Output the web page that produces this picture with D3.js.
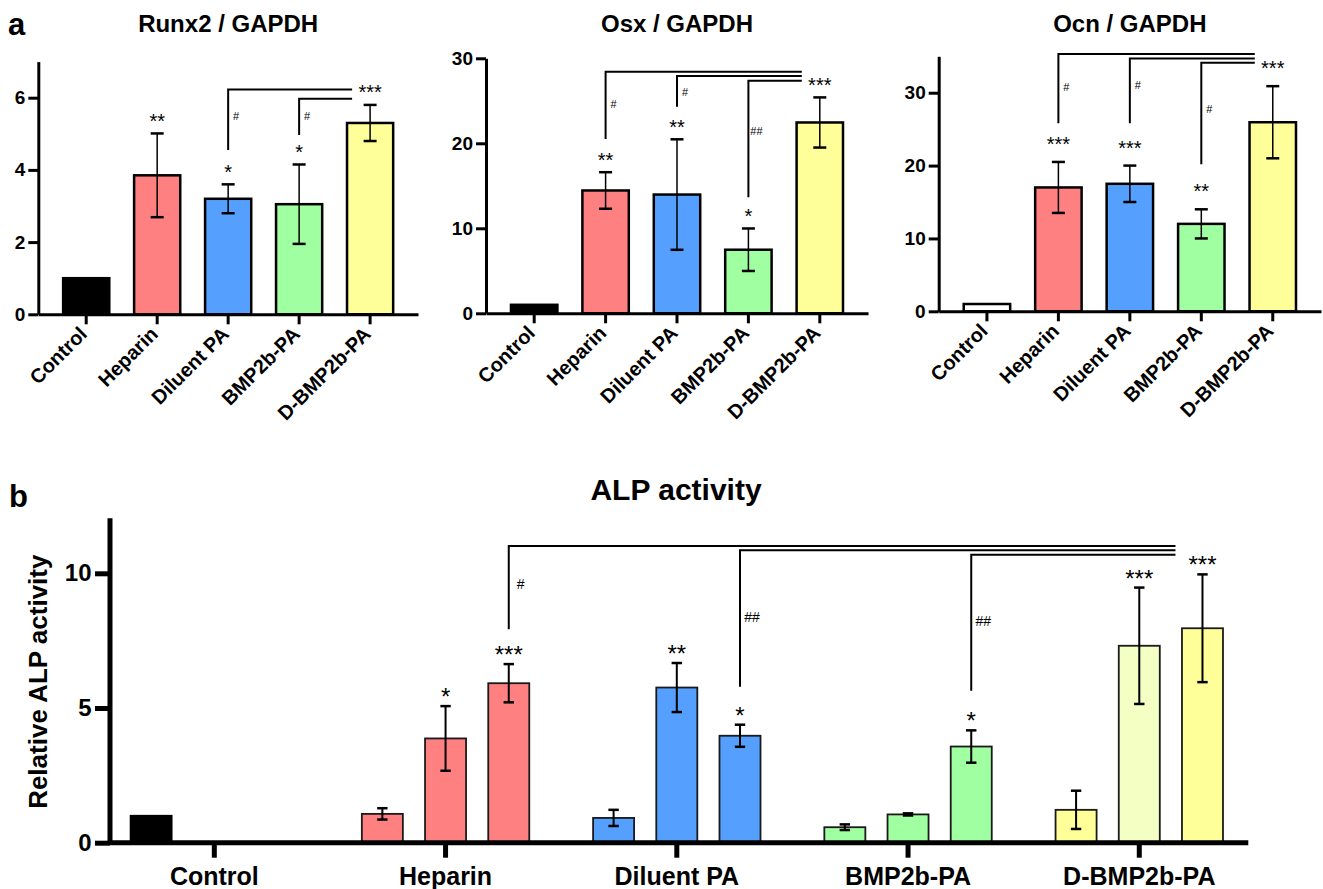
<!DOCTYPE html>
<html><head><meta charset="utf-8">
<script src="https://cdn.jsdelivr.net/npm/d3@7"></script>
<style>
body{margin:0;background:#fff}
svg{display:block}
text{font-family:Arial,"Liberation Sans",sans-serif;fill:#000}
</style>
</head><body>
<svg id="c" width="1323" height="889"></svg>
<script>
// ---------------- DATA ----------------
const categories = ["Control", "Heparin", "Diluent PA", "BMP2b-PA", "D-BMP2b-PA"];
const groupColors = ["#000000", "#FF8080", "#55A0FF", "#A0FFA0", "#FFFF99"];

// Panel a – Runx2 / GAPDH
const runx2Mean = [1.0, 3.85, 3.20, 3.05, 5.30];
const runx2Err  = [0, 1.16, 0.40, 1.10, 0.50];
const runx2Stars = ["", "**", "*", "*", "***"];
const runx2Ticks = [0, 2, 4, 6];
const runx2Brackets = [
  {from: "Diluent PA", base: 4.55, top: 6.23, label: "#", labelAt: 5.5},
  {from: "BMP2b-PA",   base: 4.97, top: 5.97, label: "#", labelAt: 5.5}
];

// Panel a – Osx / GAPDH
const osxMean = [1.0, 14.45, 13.97, 7.48, 22.45];
const osxErr  = [0, 2.15, 6.5, 2.5, 2.95];
const osxStars = ["", "**", "**", "*", "***"];
const osxTicks = [0, 10, 20, 30];
const osxBrackets = [
  {from: "Heparin",    base: 20.5,  top: 28.42, label: "#",  labelAt: 24.6},
  {from: "Diluent PA", base: 24.3,  top: 27.92, label: "#",  labelAt: 26.07},
  {from: "BMP2b-PA",   base: 13.65, top: 27.36, label: "##", labelAt: 21.45}
];

// Panel a – Ocn / GAPDH
const ocnMean = [1.0, 17.0, 17.5, 12.0, 25.95];
const ocnErr  = [0, 3.5, 2.5, 2.0, 4.95];
const ocnStars = ["", "***", "***", "**", "***"];
const ocnTicks = [0, 10, 20, 30];
const ocnBrackets = [
  {from: "Heparin",    base: 25.8, top: 35.3, label: "#", labelAt: 30.8},
  {from: "Diluent PA", base: 25.8, top: 34.7, label: "#", labelAt: 31.05},
  {from: "BMP2b-PA",   base: 20.2, top: 34.1, label: "#", labelAt: 27.7}
];

// Panel b – ALP activity (three sub-series per group)
const alpMean1 = [1.0, 1.07, 0.92, 0.575, 1.22];
const alpErr1  = [0, 0.21, 0.30, 0.105, 0.71];
const alpMean2 = [null, 3.87, 5.76, 1.05, 7.31];
const alpErr2  = [null, 1.20, 0.91, 0.04, 2.16];
const alpMean3 = [null, 5.92, 3.97, 3.57, 7.96];
const alpErr3  = [null, 0.71, 0.41, 0.60, 2.00];
const alpStars1 = ["", "", "", "", ""];
const alpStars2 = ["", "*", "**", "", "***"];
const alpStars3 = ["", "***", "*", "*", "***"];
const alpTicks = [0, 5, 10];
const alpBrackets = [
  {group: "Heparin",    series: 2, base: 7.92, top: 11.01, label: "#",  labelAt: 9.59},
  {group: "Diluent PA", series: 2, base: 5.79, top: 10.86, label: "##", labelAt: 8.37},
  {group: "BMP2b-PA",   series: 2, base: 5.64, top: 10.69, label: "##", labelAt: 8.23}
];

// ---------------- DRAW ----------------
const svg = d3.select("#c");
const fmt = d3.format("d");

svg.append("text").attr("x", 8).attr("y", 35).attr("font-size", 31).attr("font-weight", "bold").text("a");
svg.append("text").attr("x", 9).attr("y", 507).attr("font-size", 31).attr("font-weight", "bold").text("b");

function smallPanel(o) {
  const g = svg.append("g");
  const x = d3.scaleBand().domain(categories).range([o.x0, o.x1]).padding(0.35);
  const y = d3.scaleLinear().domain([0, o.max]).range([o.y0, o.yTop]);
  const cx = c => x(c) + x.bandwidth() / 2;

  g.append("text").attr("x", (o.x0 + o.x1) / 2).attr("y", 31.5)
    .attr("text-anchor", "middle").attr("font-size", 24).attr("font-weight", "bold").text(o.title);

  // bars
  g.selectAll("rect.bar").data(categories).join("rect")
    .attr("x", c => x(c)).attr("width", x.bandwidth())
    .attr("y", (c, i) => y(o.mean[i])).attr("height", (c, i) => y(0) - y(o.mean[i]))
    .attr("fill", (c, i) => (i === 0 && o.whiteControl) ? "#fff" : groupColors[i])
    .attr("stroke", "#000").attr("stroke-width", 2.5);

  // error bars
  categories.forEach((c, i) => {
    const e = o.err[i];
    if (!e) return;
    const m = o.mean[i], xc = cx(c);
    g.append("line").attr("x1", xc).attr("x2", xc).attr("y1", y(m - e)).attr("y2", y(m + e))
      .attr("stroke", "#000").attr("stroke-width", 1.5);
    [m - e, m + e].forEach(v => g.append("line").attr("x1", xc - 6.5).attr("x2", xc + 6.5)
      .attr("y1", y(v)).attr("y2", y(v)).attr("stroke", "#000").attr("stroke-width", 2.5));
    if (o.stars[i]) g.append("text").attr("x", xc).attr("y", y(m + e) - o.starGap)
      .attr("text-anchor", "middle").attr("font-size", 20).text(o.stars[i]);
  });

  // brackets
  const endX = cx(categories[4]) - 18;
  o.brackets.forEach(b => {
    const xc = cx(b.from);
    g.append("path").attr("d", `M${xc},${y(b.base)}V${y(b.top)}H${endX}`)
      .attr("fill", "none").attr("stroke", "#000").attr("stroke-width", 2);
    g.append("text").attr("x", xc + 8).attr("y", y(b.labelAt) + 4)
      .attr("text-anchor", "middle").attr("font-size", 11).text(b.label);
  });

  // axes
  const ya = g.append("g").attr("transform", `translate(${o.x0},0)`)
    .call(d3.axisLeft(y).tickValues(o.ticks).tickFormat(fmt).tickSize(10).tickSizeOuter(0).tickPadding(3));
  ya.selectAll("path,line").attr("stroke", "#000").attr("stroke-width", 3);
  ya.selectAll("text").attr("font-size", 19).attr("font-weight", "bold").attr("font-family", null);

  const xa = g.append("g").attr("transform", `translate(0,${o.y0})`)
    .call(d3.axisBottom(x).tickSize(10).tickSizeOuter(0));
  xa.selectAll("path,line").attr("stroke", "#000").attr("stroke-width", 3);
  xa.selectAll("text").remove();
  categories.forEach(c => {
    g.append("text").attr("transform", `translate(${cx(c) + 2},${o.y0 + 21}) rotate(-45)`)
      .attr("text-anchor", "end").attr("font-size", 20).attr("font-weight", "bold").text(c);
  });
}

smallPanel({title: "Runx2 / GAPDH", x0: 38.3, x1: 418, y0: 314.3, yTop: 61.6, max: 7,
  ticks: runx2Ticks, mean: runx2Mean, err: runx2Err, stars: runx2Stars, brackets: runx2Brackets, starGap: 5.5});
smallPanel({title: "Osx / GAPDH", x0: 486, x1: 868, y0: 313.3, yTop: 58.3, max: 30,
  ticks: osxTicks, mean: osxMean, err: osxErr, stars: osxStars, brackets: osxBrackets, starGap: 5.5});
smallPanel({title: "Ocn / GAPDH", x0: 938.7, x1: 1321, y0: 311.3, yTop: 56.3, max: 35, whiteControl: true,
  ticks: ocnTicks, mean: ocnMean, err: ocnErr, stars: ocnStars, brackets: ocnBrackets, starGap: 11});

// ---------------- Panel b ----------------
(function () {
  const g = svg.append("g");
  const X0 = 110, XEND = 1248.3, Y0 = 842.7;
  const xg = d3.scaleBand().domain(categories).range([98.7, 1254.9]).padding(0);
  const xs = d3.scaleBand().domain([0, 1, 2]).range([-94.8, 94.8]).paddingInner(0.351).paddingOuter(0.1755);
  const y = d3.scaleLinear().domain([0, 12]).range([Y0, Y0 - 12 * 26.94]);
  const gc = c => xg(c) + xg.bandwidth() / 2;
  const sc = (c, s) => gc(c) + xs(s) + xs.bandwidth() / 2;

  const series = [
    {mean: alpMean1, err: alpErr1, stars: alpStars1},
    {mean: alpMean2, err: alpErr2, stars: alpStars2},
    {mean: alpMean3, err: alpErr3, stars: alpStars3}
  ];

  g.append("text").attr("x", 676).attr("y", 500).attr("text-anchor", "middle")
    .attr("font-size", 30).attr("font-weight", "bold").text("ALP activity");

  series.forEach((s, si) => {
    categories.forEach((c, i) => {
      const m = s.mean[i];
      if (m == null) return;
      const fill = (i === 4 && si === 1) ? "#F4FFC4" : groupColors[i];
      g.append("rect").attr("x", gc(c) + xs(si)).attr("width", xs.bandwidth())
        .attr("y", y(m)).attr("height", y(0) - y(m))
        .attr("fill", fill).attr("stroke", i === 0 ? "#000" : "#1a1a1a").attr("stroke-width", 1.8);
      const e = s.err[i];
      const xc = sc(c, si);
      if (e) {
        g.append("line").attr("x1", xc).attr("x2", xc).attr("y1", y(m - e)).attr("y2", y(m + e))
          .attr("stroke", "#000").attr("stroke-width", 2);
        [m - e, m + e].forEach(v => g.append("line").attr("x1", xc - 5.2).attr("x2", xc + 5.2)
          .attr("y1", y(v)).attr("y2", y(v)).attr("stroke", "#000").attr("stroke-width", 2.5));
      }
      if (s.stars[i]) g.append("text").attr("x", xc).attr("y", y(m + (e || 0)) - 1)
        .attr("text-anchor", "middle").attr("font-size", 24).text(s.stars[i]);
    });
  });

  const endX = sc(categories[4], 2) - 27;
  alpBrackets.forEach(b => {
    const xc = sc(b.group, b.series);
    g.append("path").attr("d", `M${xc},${y(b.base)}V${y(b.top)}H${endX}`)
      .attr("fill", "none").attr("stroke", "#000").attr("stroke-width", 2);
    g.append("text").attr("x", xc + 12).attr("y", y(b.labelAt) + 5)
      .attr("text-anchor", "middle").attr("font-size", 14).text(b.label);
  });

  // y axis
  const ya = g.append("g").attr("transform", `translate(${X0},0)`)
    .call(d3.axisLeft(y).tickValues(alpTicks).tickFormat(fmt).tickSize(15).tickSizeOuter(0).tickPadding(3.5));
  ya.selectAll("path,line").attr("stroke", "#000").attr("stroke-width", 5);
  ya.select("path.domain").attr("d", `M0,${y(0)}V${518.3}`);
  ya.selectAll("text").attr("font-size", 24).attr("font-weight", "bold").attr("font-family", null);

  // x axis
  const xa = g.append("g").attr("transform", `translate(0,${Y0})`)
    .call(d3.axisBottom(xg).tickSize(15).tickSizeOuter(0).tickPadding(9.5));
  xa.select("path.domain").attr("d", `M${X0},0H${XEND}`);
  xa.selectAll("path,line").attr("stroke", "#000").attr("stroke-width", 5);
  xa.selectAll("text").attr("font-size", 25).attr("font-weight", "bold").attr("font-family", null);

  g.append("text").attr("transform", `translate(47,681.7) rotate(-90)`)
    .attr("text-anchor", "middle").attr("font-size", 26).attr("font-weight", "bold").text("Relative ALP activity");
})();
</script>
</body></html>
